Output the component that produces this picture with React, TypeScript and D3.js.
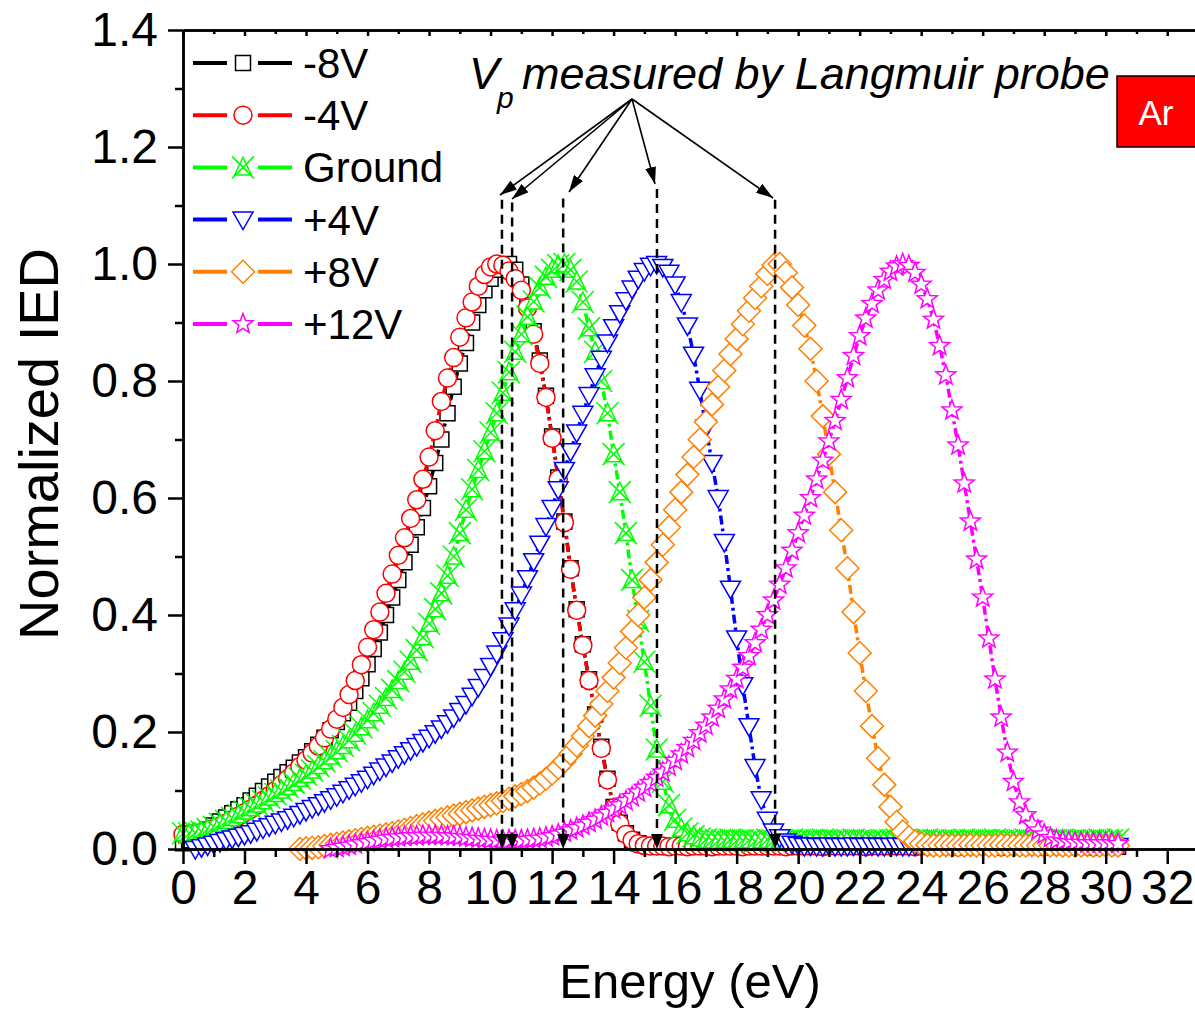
import React, { useEffect, useRef } from "react";
import * as d3 from "d3";

// ---- chart data ----
const xTicks = [0, 2, 4, 6, 8, 10, 12, 14, 16, 18, 20, 22, 24, 26, 28, 30, 32];
const xMinorTicks = [1, 3, 5, 7, 9, 11, 13, 15, 17, 19, 21, 23, 25, 27, 29, 31, 33];
const yTicks = [0, 0.2, 0.4, 0.6, 0.8, 1.0, 1.2, 1.4];
const yMinorTicks = [0.1, 0.3, 0.5, 0.7, 0.9, 1.1, 1.3];

const energyStep = 0.2; // eV between samples

const seriesNames = ["-8V", "-4V", "Ground", "+4V", "+8V", "+12V"];
const seriesColors = ["#000000", "#ff0000", "#00ff00", "#0000ff", "#ff8000", "#ff00ff"];
const seriesShapes = ["square", "circle", "ground", "triangleDown", "diamond", "star"];
const seriesStart = [0, 0, 0, 0.4, 3.8, 4.8]; // first energy of each series

const ied_m8V = [
  0.010, 0.015, 0.020, 0.027, 0.033, 0.040, 0.047, 0.054, 0.061, 0.068,
  0.075, 0.083, 0.091, 0.099, 0.107, 0.115, 0.123, 0.131, 0.139, 0.148,
  0.157, 0.167, 0.178, 0.190, 0.203, 0.217, 0.232, 0.250, 0.270, 0.292,
  0.316, 0.342, 0.370, 0.400, 0.430, 0.460, 0.490, 0.520, 0.550, 0.583,
  0.620, 0.660, 0.700, 0.745, 0.790, 0.830, 0.865, 0.900, 0.930, 0.955,
  0.975, 0.990, 0.998, 1.000, 0.990, 0.965, 0.930, 0.885, 0.835, 0.775,
  0.705, 0.635, 0.560, 0.480, 0.410, 0.350, 0.290, 0.230, 0.175, 0.120,
  0.072, 0.045, 0.027, 0.016, 0.010, 0.007,
  0.005, 0.005, 0.004, 0.005, 0.004, 0.004, 0.005, 0.004, 0.004, 0.004,
  0.005, 0.004, 0.004, 0.004, 0.004, 0.005, 0.004, 0.004, 0.004, 0.004,
  0.004, 0.004, 0.005, 0.004, 0.004, 0.004, 0.004, 0.004, 0.005, 0.004,
  0.004, 0.004, 0.004, 0.004, 0.004, 0.005, 0.004, 0.004, 0.004, 0.004,
  0.004, 0.004, 0.004, 0.005, 0.004, 0.004, 0.004, 0.004, 0.004, 0.004,
  0.005, 0.004, 0.004, 0.004, 0.004, 0.004, 0.004, 0.005, 0.004, 0.004,
  0.004, 0.004, 0.004, 0.004, 0.005, 0.004, 0.004, 0.004, 0.004, 0.004,
  0.004, 0.004, 0.005, 0.004, 0.004, 0.004, 0.004,
];

const ied_m4V = [
  0.025, 0.025, 0.026, 0.028, 0.031, 0.035, 0.039, 0.044, 0.050, 0.056,
  0.062, 0.068, 0.075, 0.083, 0.091, 0.100, 0.110, 0.120, 0.130, 0.141,
  0.152, 0.164, 0.176, 0.190, 0.205, 0.222, 0.242, 0.264, 0.288, 0.315,
  0.345, 0.375, 0.405, 0.437, 0.470, 0.502, 0.532, 0.565, 0.597, 0.632,
  0.670, 0.715, 0.765, 0.805, 0.840, 0.875, 0.908, 0.935, 0.962, 0.982,
  0.995, 1.000, 0.998, 0.988, 0.975, 0.955, 0.925, 0.880, 0.830, 0.772,
  0.702, 0.632, 0.558, 0.478, 0.408, 0.348, 0.288, 0.228, 0.172, 0.118,
  0.070, 0.043, 0.025, 0.015, 0.009, 0.006,
  0.005, 0.005, 0.005, 0.004, 0.005, 0.005, 0.004, 0.005, 0.005, 0.005,
  0.004, 0.005, 0.005, 0.005, 0.005, 0.004, 0.005, 0.005, 0.005, 0.005,
  0.005, 0.005, 0.004, 0.005, 0.005, 0.005, 0.005, 0.005, 0.004, 0.005,
  0.005, 0.005, 0.005, 0.005, 0.005, 0.004, 0.005, 0.005, 0.005, 0.005,
  0.005, 0.005, 0.005, 0.004, 0.005, 0.005, 0.005, 0.005, 0.005, 0.005,
  0.004, 0.005, 0.005, 0.005, 0.005, 0.005, 0.005, 0.004, 0.005, 0.005,
  0.005, 0.005, 0.005, 0.005, 0.004, 0.005, 0.005, 0.005, 0.005, 0.005,
  0.005, 0.005, 0.004, 0.005, 0.005, 0.005, 0.005,
];

const ied_ground = [
  0.027, 0.027, 0.028, 0.030, 0.034, 0.038, 0.043, 0.048, 0.053, 0.058,
  0.064, 0.070, 0.076, 0.082, 0.088, 0.094, 0.100, 0.106, 0.113, 0.120,
  0.127, 0.134, 0.142, 0.150, 0.158, 0.167, 0.176, 0.186, 0.197, 0.208,
  0.220, 0.232, 0.245, 0.258, 0.272, 0.287, 0.303, 0.320, 0.340, 0.362,
  0.385, 0.410, 0.437, 0.467, 0.500, 0.540, 0.580, 0.615, 0.648, 0.680,
  0.712, 0.745, 0.780, 0.815, 0.850, 0.880, 0.910, 0.936, 0.960, 0.978,
  0.990, 0.998, 1.000, 0.990, 0.970, 0.935, 0.890, 0.850, 0.800, 0.745,
  0.675, 0.610, 0.540, 0.460, 0.390, 0.320, 0.245, 0.170, 0.115, 0.075,
  0.050, 0.035, 0.027, 0.022, 0.018, 0.016,
  0.015, 0.014, 0.015, 0.016, 0.014, 0.015, 0.015, 0.013, 0.015, 0.016,
  0.014, 0.015, 0.014, 0.016, 0.015, 0.014, 0.015, 0.015, 0.016, 0.014,
  0.015, 0.014, 0.015, 0.016, 0.015, 0.014, 0.015, 0.013, 0.015, 0.015,
  0.016, 0.014, 0.015, 0.015, 0.014, 0.016, 0.015, 0.014, 0.015, 0.015,
  0.014, 0.016, 0.015, 0.014, 0.015, 0.015, 0.016, 0.014, 0.015, 0.014,
  0.015, 0.016, 0.014, 0.015, 0.015, 0.014, 0.015, 0.016, 0.014, 0.015,
  0.015, 0.014, 0.015, 0.016, 0.014, 0.015, 0.016,
];

const ied_p4V = [
  0.000, 0.003, 0.006, 0.009, 0.012, 0.015, 0.018, 0.021, 0.024, 0.027,
  0.031, 0.035, 0.039, 0.043, 0.047, 0.051, 0.055, 0.060, 0.065, 0.070,
  0.075, 0.080, 0.085, 0.090, 0.096, 0.102, 0.108, 0.114, 0.120, 0.127,
  0.134, 0.141, 0.148, 0.155, 0.162, 0.169, 0.176, 0.183, 0.190, 0.198,
  0.206, 0.215, 0.225, 0.236, 0.248, 0.262, 0.277, 0.294, 0.313, 0.334,
  0.357, 0.382, 0.408, 0.435, 0.463, 0.492, 0.522, 0.552, 0.583, 0.615,
  0.648, 0.680, 0.712, 0.744, 0.776, 0.808, 0.838, 0.866, 0.892, 0.916,
  0.938, 0.958, 0.975, 0.988, 0.997, 1.000, 0.995, 0.985, 0.965, 0.935,
  0.895, 0.845, 0.785, 0.720, 0.660, 0.600, 0.525, 0.445, 0.360, 0.280,
  0.210, 0.140, 0.085, 0.050, 0.030, 0.020, 0.013, 0.009, 0.007,
  0.005, 0.006, 0.005, 0.005, 0.006, 0.005, 0.005, 0.005, 0.006, 0.005,
  0.005, 0.006, 0.005, 0.005, 0.005, 0.006, 0.005, 0.005, 0.006, 0.005,
  0.005, 0.005, 0.006, 0.005, 0.005, 0.006, 0.005, 0.005, 0.005, 0.006,
  0.005, 0.005, 0.006, 0.005, 0.005, 0.005, 0.006, 0.005, 0.005, 0.006,
  0.005, 0.005, 0.005, 0.006, 0.005, 0.005, 0.006, 0.005, 0.005, 0.005,
  0.006, 0.005,
];

const ied_p8V = [
  0.000, 0.001, 0.002, 0.003, 0.005, 0.007, 0.009, 0.011, 0.013, 0.015,
  0.017, 0.019, 0.021, 0.023, 0.025, 0.027, 0.030, 0.033, 0.036, 0.039,
  0.042, 0.045, 0.048, 0.051, 0.054, 0.057, 0.060, 0.063, 0.066, 0.069,
  0.072, 0.075, 0.078, 0.082, 0.086, 0.090, 0.094, 0.099, 0.105, 0.112,
  0.120, 0.129, 0.139, 0.150, 0.163, 0.177, 0.193, 0.210, 0.228, 0.248,
  0.270, 0.293, 0.318, 0.344, 0.372, 0.400, 0.430, 0.460, 0.490, 0.520,
  0.550, 0.580, 0.610, 0.640, 0.670, 0.700, 0.730, 0.760, 0.790, 0.818,
  0.846, 0.872, 0.897, 0.920, 0.942, 0.962, 0.983, 0.998, 1.000, 0.985,
  0.960, 0.930, 0.895, 0.855, 0.800, 0.740, 0.675, 0.610, 0.545, 0.480,
  0.405, 0.335, 0.270, 0.210, 0.155, 0.110, 0.072, 0.046, 0.030, 0.020,
  0.013, 0.009, 0.007,
  0.006, 0.006, 0.007, 0.006, 0.006, 0.006, 0.007, 0.006, 0.006, 0.006,
  0.006, 0.007, 0.006, 0.006, 0.006, 0.006, 0.007, 0.006, 0.006, 0.006,
  0.007, 0.006, 0.006, 0.006, 0.006, 0.007, 0.006, 0.006, 0.006, 0.006,
  0.006,
];

const ied_p12V = [
  0.000, 0.002, 0.004, 0.006, 0.008, 0.010, 0.012, 0.014, 0.016, 0.018,
  0.019, 0.020, 0.021, 0.022, 0.022, 0.023, 0.023, 0.023, 0.023, 0.022,
  0.022, 0.021, 0.020, 0.019, 0.018, 0.017, 0.016, 0.015, 0.015, 0.015,
  0.015, 0.015, 0.016, 0.017, 0.018, 0.020, 0.022, 0.025, 0.028, 0.032,
  0.036, 0.040, 0.045, 0.050, 0.056, 0.062, 0.068, 0.075, 0.082, 0.089,
  0.097, 0.105, 0.113, 0.122, 0.131, 0.141, 0.151, 0.162, 0.173, 0.185,
  0.198, 0.211, 0.225, 0.240, 0.256, 0.273, 0.291, 0.310, 0.330, 0.352,
  0.375, 0.400, 0.425, 0.452, 0.480, 0.510, 0.540, 0.570, 0.600, 0.632,
  0.664, 0.697, 0.732, 0.768, 0.805, 0.843, 0.877, 0.907, 0.932, 0.955,
  0.973, 0.987, 0.996, 1.000, 0.997, 0.985, 0.965, 0.940, 0.905, 0.860,
  0.810, 0.750, 0.690, 0.625, 0.560, 0.495, 0.430, 0.360, 0.290, 0.225,
  0.165, 0.115, 0.080, 0.058, 0.042, 0.032, 0.025, 0.019, 0.015, 0.013,
  0.012, 0.011, 0.011, 0.010, 0.010, 0.010, 0.010, 0.010, 0.009,
];

const seriesValues = [ied_m8V, ied_m4V, ied_ground, ied_p4V, ied_p8V, ied_p12V];

// plasma potential (Langmuir probe) markers
const vpEnergy = [10.37, 10.7, 12.36, 15.41, 19.25];
const vpTop = [1.11, 1.105, 1.112, 1.128, 1.11];

const FONT = "'Liberation Sans', Arial, Helvetica, sans-serif";

// marker outlines centred on (0,0)
const starPath = (ro, ri) => {
  const pts = [];
  for (let i = 0; i < 10; i++) {
    const r = i % 2 === 0 ? ro : ri;
    const a = -Math.PI / 2 + (i * Math.PI) / 5;
    pts.push([r * Math.cos(a), r * Math.sin(a)]);
  }
  return "M" + pts.map((p) => p[0].toFixed(2) + "," + p[1].toFixed(2)).join("L") + "Z";
};

const markerPath = {
  square: "M-7.5,-7.5H7.5V7.5H-7.5Z",
  circle: "M9,0A9,9 0 1,1 -9,0A9,9 0 1,1 9,0Z",
  ground: "M0,-10L8.5,7.5L-8.5,7.5Z M-11,-11L11,11 M11,-11L-11,11",
  triangleDown: "M-10,-7.5L10,-7.5L0,10Z",
  diamond: "M0,-11.5L11.5,0L0,11.5L-11.5,0Z",
  star: starPath(10.5, 4.4),
};

const App = () => {
  const svgRef = useRef(null);

  useEffect(() => {
    const svg = d3.select(svgRef.current);
    svg.selectAll("*").remove();

    const x = d3.scaleLinear().domain([0, 33]).range([183, 1198]);
    const y = d3.scaleLinear().domain([0, 1.4]).range([849, 30]);

    // defs: arrow head
    const defs = svg.append("defs");
    defs.append("marker")
      .attr("id", "arrowHead")
      .attr("markerUnits", "userSpaceOnUse")
      .attr("viewBox", "0 0 17 11")
      .attr("refX", 17).attr("refY", 5.5)
      .attr("markerWidth", 17).attr("markerHeight", 11)
      .attr("orient", "auto")
      .append("path")
      .attr("d", "M0,0L17,5.5L0,11Z")
      .attr("fill", "#000");

    // series
    seriesValues.forEach((vals, si) => {
      const pts = vals.map((v, i) => ({ e: seriesStart[si] + i * energyStep, v }));
      const g = svg.append("g");
      const line = d3.line().x((d) => x(d.e)).y((d) => y(d.v));
      g.append("path")
        .attr("d", line(pts))
        .attr("fill", "none")
        .attr("stroke", seriesColors[si])
        .attr("stroke-width", 3.5)
        .attr("stroke-dasharray", "9,4,3,4");
      g.selectAll("path.mk")
        .data(pts)
        .enter()
        .append("path")
        .attr("class", "mk")
        .attr("d", markerPath[seriesShapes[si]])
        .attr("transform", (d) => `translate(${x(d.e)},${y(d.v)})`)
        .attr("fill", "#fff")
        .attr("stroke", seriesColors[si])
        .attr("stroke-width", 1.5);
    });

    // axes
    const styleAxis = (g) => {
      g.select(".domain").attr("stroke-width", 2.5);
      g.selectAll(".tick line").attr("stroke-width", 2.5);
      g.selectAll("text").attr("font-family", FONT).attr("font-size", 48).attr("fill", "#000");
    };

    svg.append("g")
      .attr("transform", "translate(0,849)")
      .call(d3.axisBottom(x).tickValues(xTicks).tickSize(15).tickSizeOuter(0).tickPadding(6).tickFormat(d3.format("d")))
      .call(styleAxis);
    svg.append("g")
      .attr("transform", "translate(0,849)")
      .call(d3.axisBottom(x).tickValues(xMinorTicks).tickSize(8).tickSizeOuter(0).tickFormat(() => ""))
      .call(styleAxis);

    svg.append("g")
      .attr("transform", "translate(183,0)")
      .call(d3.axisLeft(y).tickValues(yTicks).tickSize(15).tickSizeOuter(0).tickPadding(10).tickFormat(d3.format(".1f")))
      .call(styleAxis);
    svg.append("g")
      .attr("transform", "translate(183,0)")
      .call(d3.axisLeft(y).tickValues(yMinorTicks).tickSize(8).tickSizeOuter(0).tickFormat(() => ""))
      .call(styleAxis);

    // top and right frame
    svg.append("g")
      .attr("transform", "translate(0,30)")
      .call(d3.axisTop(x).tickValues(xTicks).tickSize(-6).tickSizeOuter(0).tickFormat(() => ""))
      .call(styleAxis);
    svg.append("g")
      .attr("transform", "translate(0,30)")
      .call(d3.axisTop(x).tickValues(xMinorTicks).tickSize(-4).tickSizeOuter(0).tickFormat(() => ""))
      .call(styleAxis);
    svg.append("line")
      .attr("x1", 1198).attr("x2", 1198).attr("y1", 30).attr("y2", 849)
      .attr("stroke", "#000").attr("stroke-width", 2.5);

    // axis titles
    svg.append("text")
      .attr("x", 690).attr("y", 998)
      .attr("text-anchor", "middle")
      .attr("font-family", FONT).attr("font-size", 49)
      .text("Energy (eV)");
    svg.append("text")
      .attr("transform", "translate(58,444) rotate(-90)")
      .attr("text-anchor", "middle")
      .attr("font-family", FONT).attr("font-size", 56)
      .text("Normalized IED");

    // legend
    const legend = svg.append("g");
    seriesNames.forEach((name, i) => {
      const ly = 63 + i * 52.2;
      const row = legend.append("g").attr("transform", `translate(0,${ly})`);
      row.append("line").attr("x1", 193).attr("x2", 227).attr("y1", 0).attr("y2", 0)
        .attr("stroke", seriesColors[i]).attr("stroke-width", 4);
      row.append("line").attr("x1", 258).attr("x2", 292).attr("y1", 0).attr("y2", 0)
        .attr("stroke", seriesColors[i]).attr("stroke-width", 4);
      row.append("path")
        .attr("d", markerPath[seriesShapes[i]])
        .attr("transform", "translate(243,0)")
        .attr("fill", "#fff")
        .attr("stroke", seriesColors[i])
        .attr("stroke-width", 1.5);
      row.append("text")
        .attr("x", 303).attr("y", 15)
        .attr("font-family", FONT).attr("font-size", 42)
        .text(name);
    });

    // Vp annotation
    const ann = svg.append("g");
    ann.append("text").attr("x", 469).attr("y", 89)
      .attr("font-family", FONT).attr("font-style", "italic").attr("font-size", 45).text("V");
    ann.append("text").attr("x", 497).attr("y", 108)
      .attr("font-family", FONT).attr("font-style", "italic").attr("font-size", 30).text("p");
    ann.append("text").attr("x", 522).attr("y", 89)
      .attr("font-family", FONT).attr("font-style", "italic").attr("font-size", 45)
      .text("measured by Langmuir probe");

    const origin = [632, 99];
    const arrowTips = [[500, 195], [512, 199], [569, 192], [655, 184], [773, 198]];
    arrowTips.forEach((t) => {
      ann.append("line")
        .attr("x1", origin[0]).attr("y1", origin[1])
        .attr("x2", t[0]).attr("y2", t[1])
        .attr("stroke", "#000").attr("stroke-width", 1.6)
        .attr("marker-end", "url(#arrowHead)");
    });

    vpEnergy.forEach((e, i) => {
      const px = x(e);
      ann.append("line")
        .attr("x1", px).attr("x2", px)
        .attr("y1", y(vpTop[i])).attr("y2", y(0) - 12)
        .attr("stroke", "#000").attr("stroke-width", 2.5)
        .attr("stroke-dasharray", "9,6");
      ann.append("path")
        .attr("d", `M${px - 6},${y(0) - 15}L${px + 6},${y(0) - 15}L${px},${y(0)}Z`)
        .attr("fill", "#000");
    });

    // Ar label
    svg.append("rect")
      .attr("x", 1117).attr("y", 76).attr("width", 90).attr("height", 71)
      .attr("fill", "#ff0000").attr("stroke", "#000").attr("stroke-width", 1.5);
    svg.append("text")
      .attr("x", 1156).attr("y", 125)
      .attr("text-anchor", "middle")
      .attr("font-family", FONT).attr("font-size", 35)
      .attr("fill", "#fff")
      .text("Ar");
  }, []);

  return (
    <svg
      ref={svgRef}
      width={1195}
      height={1010}
      style={{ position: "absolute", left: 0, top: 0, background: "#fff" }}
    />
  );
};

export default App;
